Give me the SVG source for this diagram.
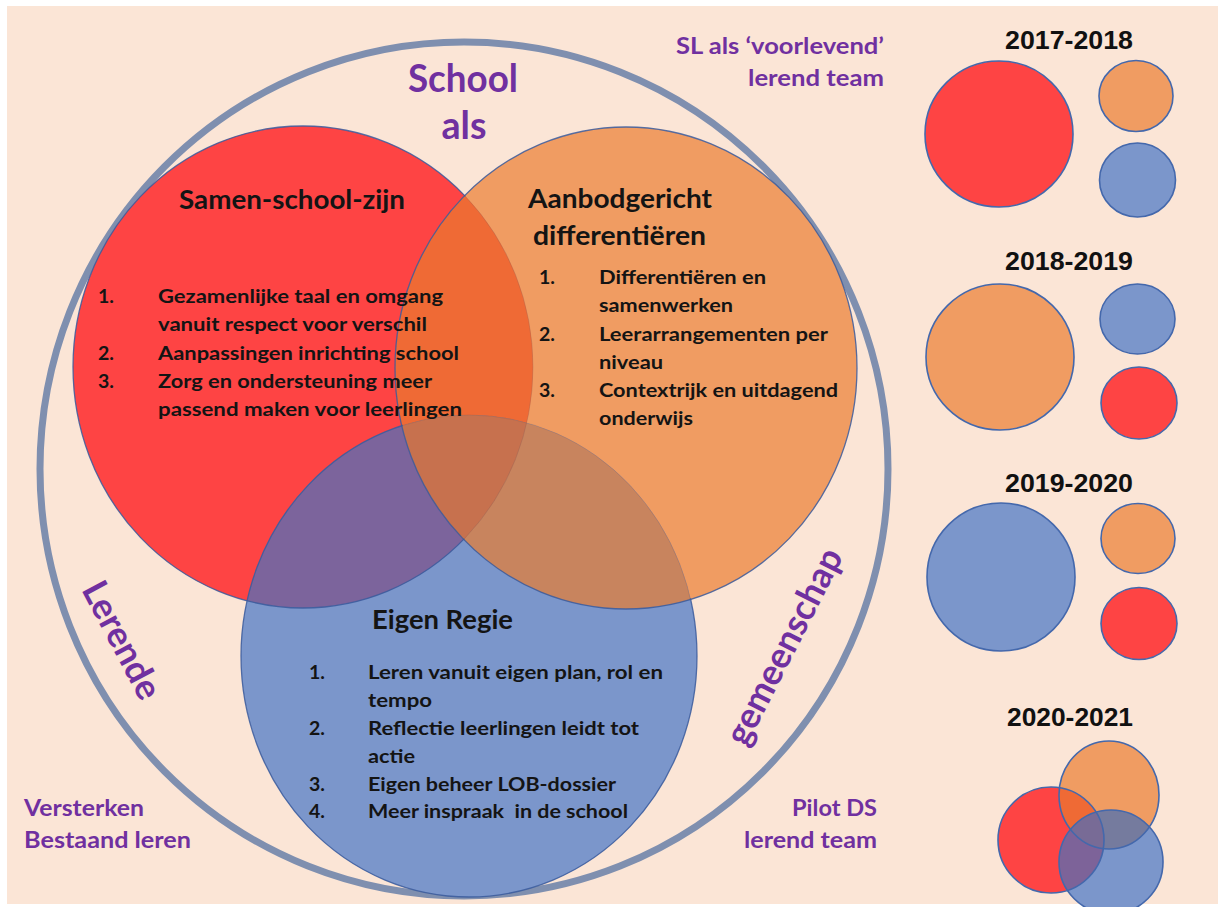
<svg xmlns="http://www.w3.org/2000/svg" width="1218" height="907" viewBox="0 0 1218 907">
  <style>
    .bg { fill: #FBE5D6; }
    .ring { fill: none; stroke: #7F8FAF; stroke-width: 7; }
    .red { fill: #FE4444; }
    .orange { fill: #F09C62; }
    .blue { fill: #7B96CB; }
    .edge { fill: none; stroke: #3A5A9C; stroke-width: 1.3; stroke-opacity: 0.85; }
    .faint { fill: none; stroke: #7A5A5A; stroke-width: 1; stroke-opacity: 0.25; }
    .mini { stroke: #4468AC; stroke-width: 1.6; }
    .miniedge { fill: none; stroke: #4468AC; stroke-width: 1.6; }
    .h { font-family: Lato, "Open Sans", "Liberation Sans", sans-serif; font-weight: 700; fill: #141414; }
    .li { font-family: Lato, "Open Sans", "Liberation Sans", sans-serif; font-weight: 700; font-size: 19.5px; fill: #141414; }
    .pu { font-family: Lato, "Open Sans", "Liberation Sans", sans-serif; font-weight: 700; fill: #7030A0; }
    .yr { font-family: "Liberation Sans", Arial, sans-serif; font-weight: 700; font-size: 25px; fill: #111; text-anchor: middle; }
    .mid { text-anchor: middle; }
    .end { text-anchor: end; }
  </style>
  <defs>
    <clipPath id="inRed"><ellipse cx="303" cy="367" rx="230" ry="241"/></clipPath>
    <clipPath id="inOrange"><ellipse cx="626" cy="368" rx="231" ry="241"/></clipPath>
    <mask id="outsideOrange" maskUnits="userSpaceOnUse" x="0" y="0" width="1218" height="907">
      <rect x="0" y="0" width="1218" height="907" fill="#fff"/>
      <ellipse cx="626" cy="368" rx="230" ry="240" fill="#000"/>
    </mask>
    <clipPath id="inMiniRed"><ellipse cx="1051" cy="840" rx="53" ry="53"/></clipPath>
    <clipPath id="inMiniOrange"><ellipse cx="1109" cy="795" rx="50" ry="54"/></clipPath>
  </defs>

  <!-- canvas -->
  <rect x="0" y="0" width="1218" height="907" fill="#ffffff"/>
  <rect class="bg" x="7" y="6" width="1211" height="898"/>

  <!-- outer ring: the learning community -->
  <g id="ring">
    <ellipse class="ring" cx="464" cy="469" rx="424" ry="427"/>
  </g>

  <!-- three overlapping themes -->
  <g id="venn">
    <ellipse class="red" cx="303" cy="367" rx="230" ry="241"/>
    <ellipse class="orange" cx="626" cy="368" rx="231" ry="241"/>
    <ellipse class="blue" cx="469" cy="656" rx="228" ry="241"/>
    <g clip-path="url(#inRed)">
      <ellipse cx="626" cy="368" rx="231" ry="241" fill="#EF6A35"/>
      <ellipse cx="469" cy="656" rx="228" ry="241" fill="#7C649C"/>
    </g>
    <g clip-path="url(#inOrange)">
      <ellipse cx="469" cy="656" rx="228" ry="241" fill="#C8845E"/>
    </g>
    <g clip-path="url(#inRed)">
      <g clip-path="url(#inOrange)">
        <ellipse cx="469" cy="656" rx="228" ry="241" fill="#C7714E"/>
      </g>
    </g>
    <!-- red and blue rims fade where they pass under the orange disc -->
    <g mask="url(#outsideOrange)">
      <ellipse class="edge" cx="303" cy="367" rx="230" ry="241"/>
      <ellipse class="edge" cx="469" cy="656" rx="228" ry="241"/>
    </g>
    <g clip-path="url(#inOrange)">
      <ellipse class="faint" cx="303" cy="367" rx="230" ry="241"/>
      <ellipse class="faint" cx="469" cy="656" rx="228" ry="241"/>
    </g>
    <ellipse class="edge" cx="626" cy="368" rx="231" ry="241"/>
  </g>

  <!-- ring labels -->
  <g id="ring-labels">
    <text class="pu mid" x="463" y="92" font-size="39" textLength="110" lengthAdjust="spacingAndGlyphs">School</text>
    <text class="pu mid" x="464" y="139" font-size="39" textLength="45" lengthAdjust="spacingAndGlyphs">als</text>
    <text class="pu mid" font-size="36" transform="translate(111 646) rotate(62)" textLength="128" lengthAdjust="spacingAndGlyphs">Lerende</text>
    <text class="pu mid" font-size="36" transform="translate(795 652) rotate(-63)" textLength="215" lengthAdjust="spacingAndGlyphs">gemeenschap</text>
  </g>

  <!-- corner notes -->
  <g id="note-sl">
    <text class="pu end" x="884" y="54" font-size="23" textLength="208" lengthAdjust="spacingAndGlyphs">SL als ‘voorlevend’</text>
    <text class="pu end" x="884" y="86" font-size="23" textLength="136" lengthAdjust="spacingAndGlyphs">lerend team</text>
  </g>
  <g id="note-versterken">
    <text class="pu" x="24" y="816" font-size="22" textLength="120" lengthAdjust="spacingAndGlyphs">Versterken</text>
    <text class="pu" x="24" y="848" font-size="22" textLength="167" lengthAdjust="spacingAndGlyphs">Bestaand leren</text>
  </g>
  <g id="note-pilot">
    <text class="pu end" x="877" y="816" font-size="22" textLength="85" lengthAdjust="spacingAndGlyphs">Pilot DS</text>
    <text class="pu end" x="877" y="848" font-size="22" textLength="133" lengthAdjust="spacingAndGlyphs">lerend team</text>
  </g>

  <!-- Samen-school-zijn -->
  <g id="samen-school-zijn">
    <text class="h" x="179" y="209" font-size="26" textLength="226" lengthAdjust="spacingAndGlyphs">Samen-school-zijn</text>
    <text class="li" x="98" y="303">1.</text>
    <text class="li" x="158" y="303" textLength="285" lengthAdjust="spacingAndGlyphs">Gezamenlijke taal en omgang</text>
    <text class="li" x="158" y="331" textLength="269" lengthAdjust="spacingAndGlyphs">vanuit respect voor verschil</text>
    <text class="li" x="98" y="359.5">2.</text>
    <text class="li" x="158" y="359.5" textLength="301" lengthAdjust="spacingAndGlyphs">Aanpassingen inrichting school</text>
    <text class="li" x="98" y="388">3.</text>
    <text class="li" x="158" y="388" textLength="274" lengthAdjust="spacingAndGlyphs">Zorg en ondersteuning meer</text>
    <text class="li" x="158" y="416" textLength="304" lengthAdjust="spacingAndGlyphs">passend maken voor leerlingen</text>
  </g>

  <!-- Aanbodgericht differentiëren -->
  <g id="aanbodgericht">
    <text class="h" x="528" y="208" font-size="26" textLength="184" lengthAdjust="spacingAndGlyphs">Aanbodgericht</text>
    <text class="h" x="533" y="245" font-size="26" textLength="173" lengthAdjust="spacingAndGlyphs">differentiëren</text>
    <text class="li" x="539" y="284">1.</text>
    <text class="li" x="599" y="284" textLength="167" lengthAdjust="spacingAndGlyphs">Differentiëren en</text>
    <text class="li" x="599" y="312" textLength="134" lengthAdjust="spacingAndGlyphs">samenwerken</text>
    <text class="li" x="539" y="341">2.</text>
    <text class="li" x="599" y="341" textLength="229" lengthAdjust="spacingAndGlyphs">Leerarrangementen per</text>
    <text class="li" x="599" y="369" textLength="64" lengthAdjust="spacingAndGlyphs">niveau</text>
    <text class="li" x="539" y="397">3.</text>
    <text class="li" x="599" y="397" textLength="239" lengthAdjust="spacingAndGlyphs">Contextrijk en uitdagend</text>
    <text class="li" x="599" y="425" textLength="94" lengthAdjust="spacingAndGlyphs">onderwijs</text>
  </g>

  <!-- Eigen Regie -->
  <g id="eigen-regie">
    <text class="h" x="372" y="629" font-size="26" textLength="141" lengthAdjust="spacingAndGlyphs">Eigen Regie</text>
    <text class="li" x="309" y="679">1.</text>
    <text class="li" x="368" y="679" textLength="295" lengthAdjust="spacingAndGlyphs">Leren vanuit eigen plan, rol en</text>
    <text class="li" x="368" y="707" textLength="64" lengthAdjust="spacingAndGlyphs">tempo</text>
    <text class="li" x="309" y="735">2.</text>
    <text class="li" x="368" y="735" textLength="271" lengthAdjust="spacingAndGlyphs">Reflectie leerlingen leidt tot</text>
    <text class="li" x="368" y="763" textLength="47" lengthAdjust="spacingAndGlyphs">actie</text>
    <text class="li" x="309" y="791">3.</text>
    <text class="li" x="368" y="791" textLength="248" lengthAdjust="spacingAndGlyphs">Eigen beheer LOB-dossier</text>
    <text class="li" x="309" y="818">4.</text>
    <text class="li" x="368" y="818" textLength="260" lengthAdjust="spacingAndGlyphs" xml:space="preserve">Meer inspraak  in de school</text>
  </g>

  <!-- yearly focus -->
  <g id="year-2017">
    <text class="yr" x="1069" y="49" textLength="128" lengthAdjust="spacingAndGlyphs">2017-2018</text>
    <ellipse class="red mini" cx="999" cy="134" rx="74" ry="73"/>
    <ellipse class="orange mini" cx="1136" cy="96" rx="37" ry="35.5"/>
    <ellipse class="blue mini" cx="1137.5" cy="180" rx="38" ry="37"/>
  </g>
  <g id="year-2018">
    <text class="yr" x="1069" y="270" textLength="128" lengthAdjust="spacingAndGlyphs">2018-2019</text>
    <ellipse class="orange mini" cx="1000" cy="357" rx="74" ry="73"/>
    <ellipse class="blue mini" cx="1137.5" cy="319" rx="37.5" ry="35"/>
    <ellipse class="red mini" cx="1139" cy="403" rx="38" ry="36"/>
  </g>
  <g id="year-2019">
    <text class="yr" x="1069" y="492" textLength="128" lengthAdjust="spacingAndGlyphs">2019-2020</text>
    <ellipse class="blue mini" cx="1001" cy="577" rx="74" ry="74"/>
    <ellipse class="orange mini" cx="1138" cy="538.5" rx="37" ry="35"/>
    <ellipse class="red mini" cx="1139" cy="623.5" rx="38" ry="36"/>
  </g>
  <g id="year-2020">
    <text class="yr" x="1070" y="726" textLength="126" lengthAdjust="spacingAndGlyphs">2020-2021</text>
    <ellipse class="red" cx="1051" cy="840" rx="53" ry="53"/>
    <ellipse class="orange" cx="1109" cy="795" rx="50" ry="54"/>
    <ellipse class="blue" cx="1111" cy="862" rx="52" ry="52"/>
    <g clip-path="url(#inMiniRed)">
      <ellipse cx="1109" cy="795" rx="50" ry="54" fill="#EF6A35"/>
      <ellipse cx="1111" cy="862" rx="52" ry="52" fill="#7D6399"/>
    </g>
    <g clip-path="url(#inMiniOrange)">
      <ellipse cx="1111" cy="862" rx="52" ry="52" fill="#757B9E"/>
    </g>
    <g clip-path="url(#inMiniRed)">
      <g clip-path="url(#inMiniOrange)">
        <ellipse cx="1111" cy="862" rx="52" ry="52" fill="#786B96"/>
      </g>
    </g>
    <ellipse class="miniedge" cx="1051" cy="840" rx="53" ry="53"/>
    <ellipse class="miniedge" cx="1109" cy="795" rx="50" ry="54"/>
    <ellipse class="miniedge" cx="1111" cy="862" rx="52" ry="52"/>
  </g>
</svg>
